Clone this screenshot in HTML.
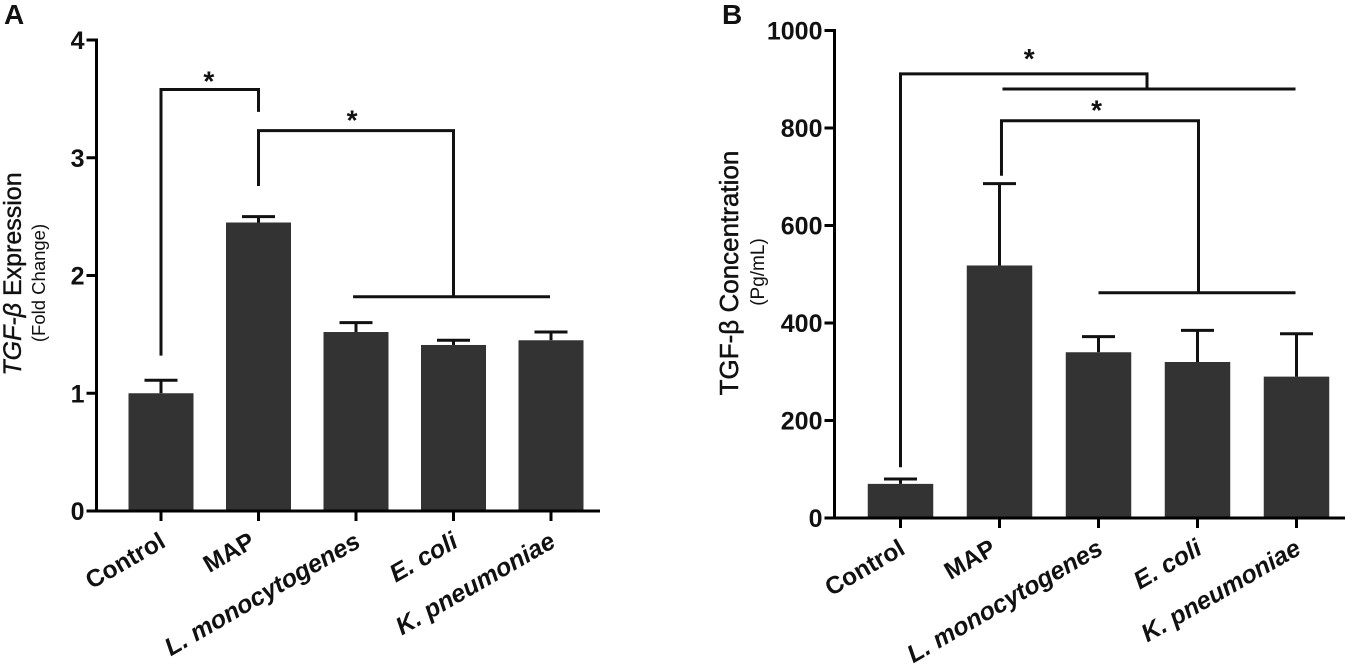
<!DOCTYPE html>
<html>
<head>
<meta charset="utf-8">
<title>TGF-beta bar charts</title>
<style>
html,body{margin:0;padding:0;background:#fff;width:1365px;height:664px;overflow:hidden}
svg{display:block}
text{font-family:"Liberation Sans",sans-serif;fill:#111}
</style>
</head>
<body>
<svg id="fig" width="1365" height="664" viewBox="0 0 1365 664" xmlns="http://www.w3.org/2000/svg"></svg>
<script>
const categories = ["Control", "MAP", "L. monocytogenes", "E. coli", "K. pneumoniae"];
const italicCategories = [false, false, true, true, true];

const panelAValues = [1.0, 2.45, 1.52, 1.41, 1.45];
const panelAErrorTops = [1.11, 2.5, 1.6, 1.45, 1.52];
const panelATicks = [0, 1, 2, 3, 4];

const panelBValues = [70, 518, 340, 320, 290];
const panelBErrorTops = [80, 686, 372, 385, 378];
const panelBTicks = [0, 200, 400, 600, 800, 1000];

const svg = document.getElementById('fig');
const NS = 'http://www.w3.org/2000/svg';

function make(tag, attrs, parent, txt) {
  const el = document.createElementNS(NS, tag);
  for (const k in attrs) el.setAttribute(k, attrs[k]);
  if (txt !== undefined) el.textContent = txt;
  (parent || svg).appendChild(el);
  return el;
}

function drawPanel(cfg) {
  const g = make('g', {}, svg);
  
  
  const y = v => cfg.y0 - (v / cfg.max) * (cfg.y0 - cfg.yTop);
  const x = i => cfg.first + i * cfg.step;

  cfg.values.forEach((v, i) => {
    const err = make('g', {}, g);
    
    
    make('line', {x1: x(i), x2: x(i), y1: y(v), y2: y(cfg.errs[i]), stroke: '#111', 'stroke-width': 3}, err);
    make('line', {x1: x(i) - 16.5, x2: x(i) + 16.5, y1: y(cfg.errs[i]), y2: y(cfg.errs[i]), stroke: '#111', 'stroke-width': 3}, err);
    const bar = make('rect', {x: x(i) - cfg.barW / 2, y: y(v), width: cfg.barW, height: cfg.y0 - y(v), fill: '#333'}, g);
    
    
  });

  const yAxis = make('line', {x1: cfg.axisX, x2: cfg.axisX, y1: cfg.yTop - 1.5, y2: cfg.y0 + 1.5, stroke: '#000', 'stroke-width': 3}, g);
  
  
  const xAxis = make('line', {x1: cfg.axisX - 10, x2: cfg.axisEnd, y1: cfg.y0, y2: cfg.y0, stroke: '#000', 'stroke-width': 3}, g);
  
  

  cfg.ticks.forEach(t => {
    const tick = make('line', {x1: cfg.axisX - 10, x2: cfg.axisX, y1: y(t), y2: y(t), stroke: '#000', 'stroke-width': 3}, g);
    
    
    const lab = make('text', {x: cfg.axisX - 12, y: y(t) + 9, 'text-anchor': 'end', 'font-size': 25, 'font-weight': 'bold'}, g, String(t));
    
    
  });

  categories.forEach((c, i) => {
    const tick = make('line', {x1: x(i), x2: x(i), y1: cfg.y0, y2: cfg.y0 + 10, stroke: '#000', 'stroke-width': 3}, g);
    
    
    // the second label ("MAP") sits further left of its tick in the reference
    const lx = x(i) + (i === 1 ? -2 : 6), ly = cfg.y0 + 35;
    const attrs = {x: lx, y: ly, 'text-anchor': 'end', 'font-size': italicCategories[i] ? 25 : 24.5, 'font-weight': 'bold',
      transform: 'rotate(-30 ' + lx + ' ' + ly + ')'};
    if (italicCategories[i]) attrs['font-style'] = 'italic';
    const lab = make('text', attrs, g, c);
    
    
  });

  cfg.brackets.forEach(b => {
    const br = make('polyline', {points: b.map(p => x(p[0]) + ',' + y(p[1])).join(' '), fill: 'none', stroke: '#111', 'stroke-width': 3}, g);
    
    
  });
  cfg.stars.forEach(s => {
    const st = make('text', {x: x(s[0]), y: y(s[1]), 'text-anchor': 'middle', 'font-size': 28, 'font-weight': 'bold'}, g, '*');
    
    
  });
}

// bracket and star positions: [category index, value]
const panelABrackets = [
  [[0, 1.32], [0, 3.58], [1, 3.58], [1, 3.39]],
  [[1, 2.76], [1, 3.23], [3, 3.23], [3, 1.82]],
  [[1.97, 1.82], [3.99, 1.82]]
];
const panelAStars = [[0.49, 3.57], [1.96, 3.24]];

const panelBBrackets = [
  [[0, 104], [0, 911], [2.49, 911], [2.49, 881]],
  [[1.03, 880], [3.99, 880]],
  [[1.02, 702], [1.02, 815], [3.01, 815], [3.01, 462]],
  [[2, 462], [3.99, 462]]
];
const panelBStars = [[1.3, 923], [1.98, 817]];

drawPanel({id: 'panel-a-chart', values: panelAValues, errs: panelAErrorTops, ticks: panelATicks,
  max: 4, y0: 511, yTop: 40, axisX: 96.5, axisEnd: 600, first: 161, step: 97.5, barW: 65,
  brackets: panelABrackets, stars: panelAStars});
drawPanel({id: 'panel-b-chart', values: panelBValues, errs: panelBErrorTops, ticks: panelBTicks,
  max: 1000, y0: 518, yTop: 30.5, axisX: 834.5, axisEnd: 1345, first: 900.5, step: 99, barW: 65.5,
  brackets: panelBBrackets, stars: panelBStars});
</script>
<script>
(function () {
  const s = document.getElementById('fig');
  const N = 'http://www.w3.org/2000/svg';
  function t(x, y, size, weight, str, name, rot) {
    const e = document.createElementNS(N, 'text');
    e.setAttribute('x', x);
    e.setAttribute('y', y);
    e.setAttribute('font-size', size);
    e.setAttribute('font-weight', weight);
    if (rot) {
      e.setAttribute('transform', 'rotate(-90 ' + x + ' ' + y + ')');
      e.setAttribute('text-anchor', 'middle');
    }
    
    
    e.textContent = str;
    s.appendChild(e);
    return e;
  }
  t(4, 24, 28, 'bold', 'A', 'panel-a-label');
  t(722, 24, 28, 'bold', 'B', 'panel-b-label');

  const a = t(21, 274, 25, 'normal', '', 'y-axis-title-a', true);
  a.setAttribute('stroke', '#111');
  a.setAttribute('stroke-width', '0.4');
  const a1 = document.createElementNS(N, 'tspan');
  a1.setAttribute('font-style', 'italic');
  a1.textContent = 'TGF-β';
  a.appendChild(a1);
  const a2 = document.createElementNS(N, 'tspan');
  a2.textContent = ' Expression';
  a.appendChild(a2);
  t(45, 283, 18.5, 'normal', '(Fold Change)', 'y-axis-subtitle-a', true);

  const b = t(738, 273, 26, 'normal', 'TGF-β Concentration', 'y-axis-title-b', true);
  b.setAttribute('stroke', '#111');
  b.setAttribute('stroke-width', '0.5');
  t(764, 272, 19, 'normal', '(Pg/mL)', 'y-axis-subtitle-b', true);
})();
</script>
</body>
</html>
